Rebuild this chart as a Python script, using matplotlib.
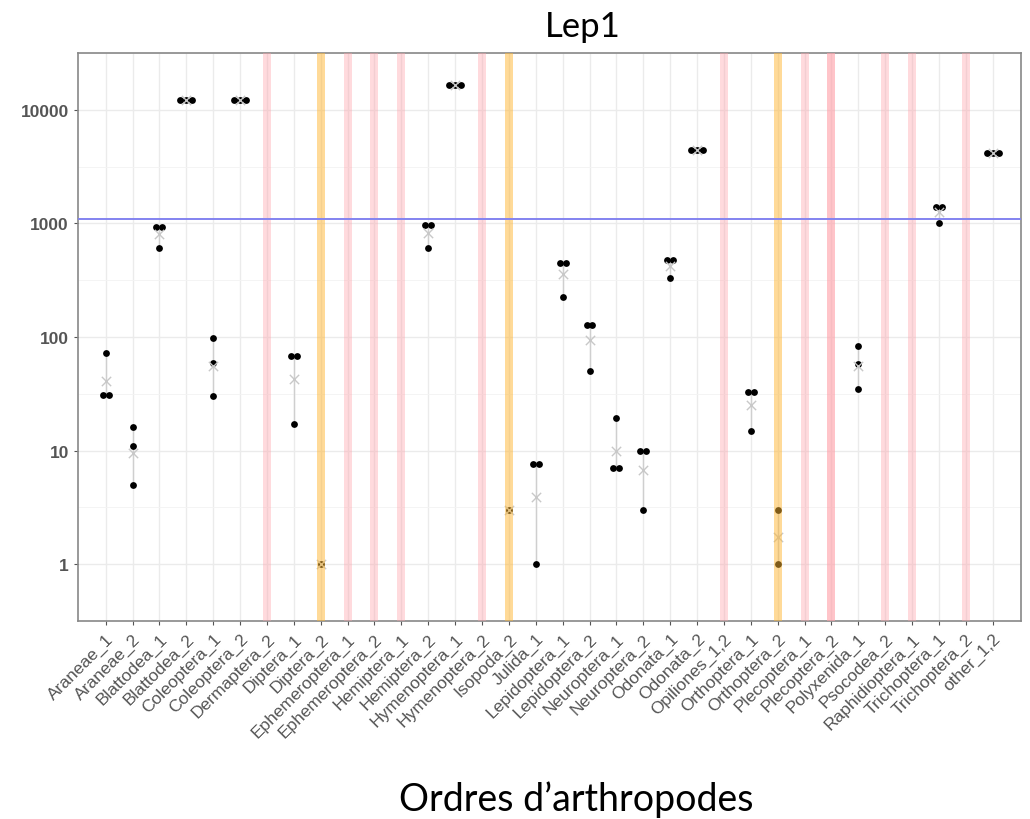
import numpy as np
import matplotlib
matplotlib.use('Agg')
import matplotlib.pyplot as plt

# Categories (orders + sample) on the x axis
categories = ['Araneae_1', 'Araneae_2', 'Blattodea_1', 'Blattodea_2', 'Coleoptera_1',
              'Coleoptera_2', 'Dermaptera_2', 'Diptera_1', 'Diptera_2', 'Ephemeroptera_1',
              'Ephemeroptera_2', 'Hemiptera_1', 'Hemiptera_2', 'Hymenoptera_1',
              'Hymenoptera_2', 'Isopoda_2', 'Julida_1', 'Lepidoptera_1', 'Lepidoptera_2',
              'Neuroptera_1', 'Neuroptera_2', 'Odonata_1', 'Odonata_2', 'Opiliones_1,2',
              'Orthoptera_1', 'Orthoptera_2', 'Plecoptera_1', 'Plecoptera_2',
              'Polyxenida_1', 'Psocodea_2', 'Raphidioptera_1', 'Trichoptera_1',
              'Trichoptera_2', 'other_1,2']

# Replicate values per category (empty = no data)
values = {
    'Araneae_1': [72, 31, 31],
    'Araneae_2': [16, 11, 5],
    'Blattodea_1': [930, 930, 610],
    'Blattodea_2': [12300, 12300, 12300],
    'Coleoptera_1': [98, 59, 30],
    'Coleoptera_2': [12300, 12300, 12300],
    'Diptera_1': [68, 68, 17],
    'Diptera_2': [1],
    'Hemiptera_2': [960, 960, 610],
    'Hymenoptera_1': [16400, 16400, 16400],
    'Isopoda_2': [3],
    'Julida_1': [7.6, 7.6, 1],
    'Lepidoptera_1': [450, 450, 225],
    'Lepidoptera_2': [128, 128, 50],
    'Neuroptera_1': [19.5, 7, 7],
    'Neuroptera_2': [10, 10, 3],
    'Odonata_1': [480, 480, 330],
    'Odonata_2': [4400, 4400, 4400],
    'Orthoptera_1': [33, 33, 15],
    'Orthoptera_2': [3, 1],
    'Polyxenida_1': [83, 58, 34.5],
    'Trichoptera_1': [1400, 1400, 1010],
    'other_1,2': [4200, 4200, 4200],
}

# Highlighted columns (Plecoptera_2 is drawn twice in the original, hence darker)
pink_bands = ['Dermaptera_2', 'Ephemeroptera_1', 'Ephemeroptera_2', 'Hemiptera_1',
              'Hymenoptera_2', 'Opiliones_1,2', 'Plecoptera_1', 'Plecoptera_2',
              'Plecoptera_2', 'Psocodea_2', 'Raphidioptera_1', 'Trichoptera_2']
orange_bands = ['Diptera_2', 'Isopoda_2', 'Orthoptera_2']

threshold = 1100
y_ticks = [1, 10, 100, 1000, 10000]
title = 'Lep1'
x_label = 'Ordres d\u2019arthropodes'


def draw_category(ax, x, vals):
    """Points (dodged when equal), min-max segment and geometric mean cross"""
    vals = np.array(vals, dtype=float)
    if len(vals) > 1:
        ax.plot([x, x], [vals.min(), vals.max()], color='#cfcfcf', lw=1.0, zorder=2)
    for v in np.unique(vals):
        n = int(np.sum(vals == v))
        offs = (np.arange(n) - (n - 1) / 2) * 0.22
        ax.scatter(x + offs, [v] * n, s=24, color='black', zorder=3, linewidths=0)
    gmean = np.exp(np.mean(np.log(vals)))
    ax.scatter([x], [gmean], marker='x', s=45, color='#c8c8c8', linewidths=1.0, zorder=4)


def main():
    fig = plt.figure(figsize=(10.3, 8.2), dpi=100)
    ax = fig.add_axes([0.0757, 0.2415, 0.9155, 0.6927])

    xpos = {c: i for i, c in enumerate(categories)}

    for c in categories:
        if c in values:
            draw_category(ax, xpos[c], values[c])

    # coloured bands drawn over the points
    for c in pink_bands:
        ax.axvspan(xpos[c] - 0.15, xpos[c] + 0.15, color='#ffa3ab', alpha=0.4,
                   lw=0, zorder=5)
    for c in orange_bands:
        ax.axvspan(xpos[c] - 0.15, xpos[c] + 0.15, color='#ffb733', alpha=0.5,
                   lw=0, zorder=5)

    ax.axhline(threshold, color='#8383f0', lw=1.4, zorder=6)

    ax.set_yscale('log')
    ax.set_ylim(10 ** -0.28, 10 ** 4.48)
    ax.set_xlim(-1.03, len(categories) + 0.05)

    ax.set_yticks(y_ticks)
    ax.set_yticklabels([str(t) for t in y_ticks])
    minor = [10 ** (k + 0.5) for k in range(-1, 5)]
    ax.set_yticks(minor, minor=True)
    ax.set_yticklabels([], minor=True)

    ax.set_xticks(range(len(categories)))
    ax.set_xticklabels(categories, rotation=45, ha='right', rotation_mode='anchor')

    ax.tick_params(axis='both', which='major', length=3, color='#555555',
                   labelcolor='#555555', labelsize=12.5)
    ax.tick_params(axis='y', which='minor', length=0)
    ax.tick_params(axis='x', pad=4)
    for lab in ax.get_yticklabels():
        lab.set_fontweight('bold')

    ax.grid(True, which='major', color='#ebebeb', lw=1.0, zorder=0)
    ax.grid(True, which='minor', axis='y', color='#f3f3f3', lw=0.6, zorder=0)
    ax.set_axisbelow(True)
    for sp in ax.spines.values():
        sp.set_color('#888888')
        sp.set_linewidth(1.2)

    fig.text(0.566, 0.967, title, ha='center', va='center', fontsize=25,
             family=['Lato', 'DejaVu Sans'])
    fig.text(0.559, 0.0244, x_label, ha='center', va='center', fontsize=27,
             family=['Lato', 'DejaVu Sans'])

    fig.savefig('out.png', dpi=100)


if __name__ == "__main__":
    plt.rcParams['font.family'] = ['Liberation Sans', 'DejaVu Sans']
    main()
